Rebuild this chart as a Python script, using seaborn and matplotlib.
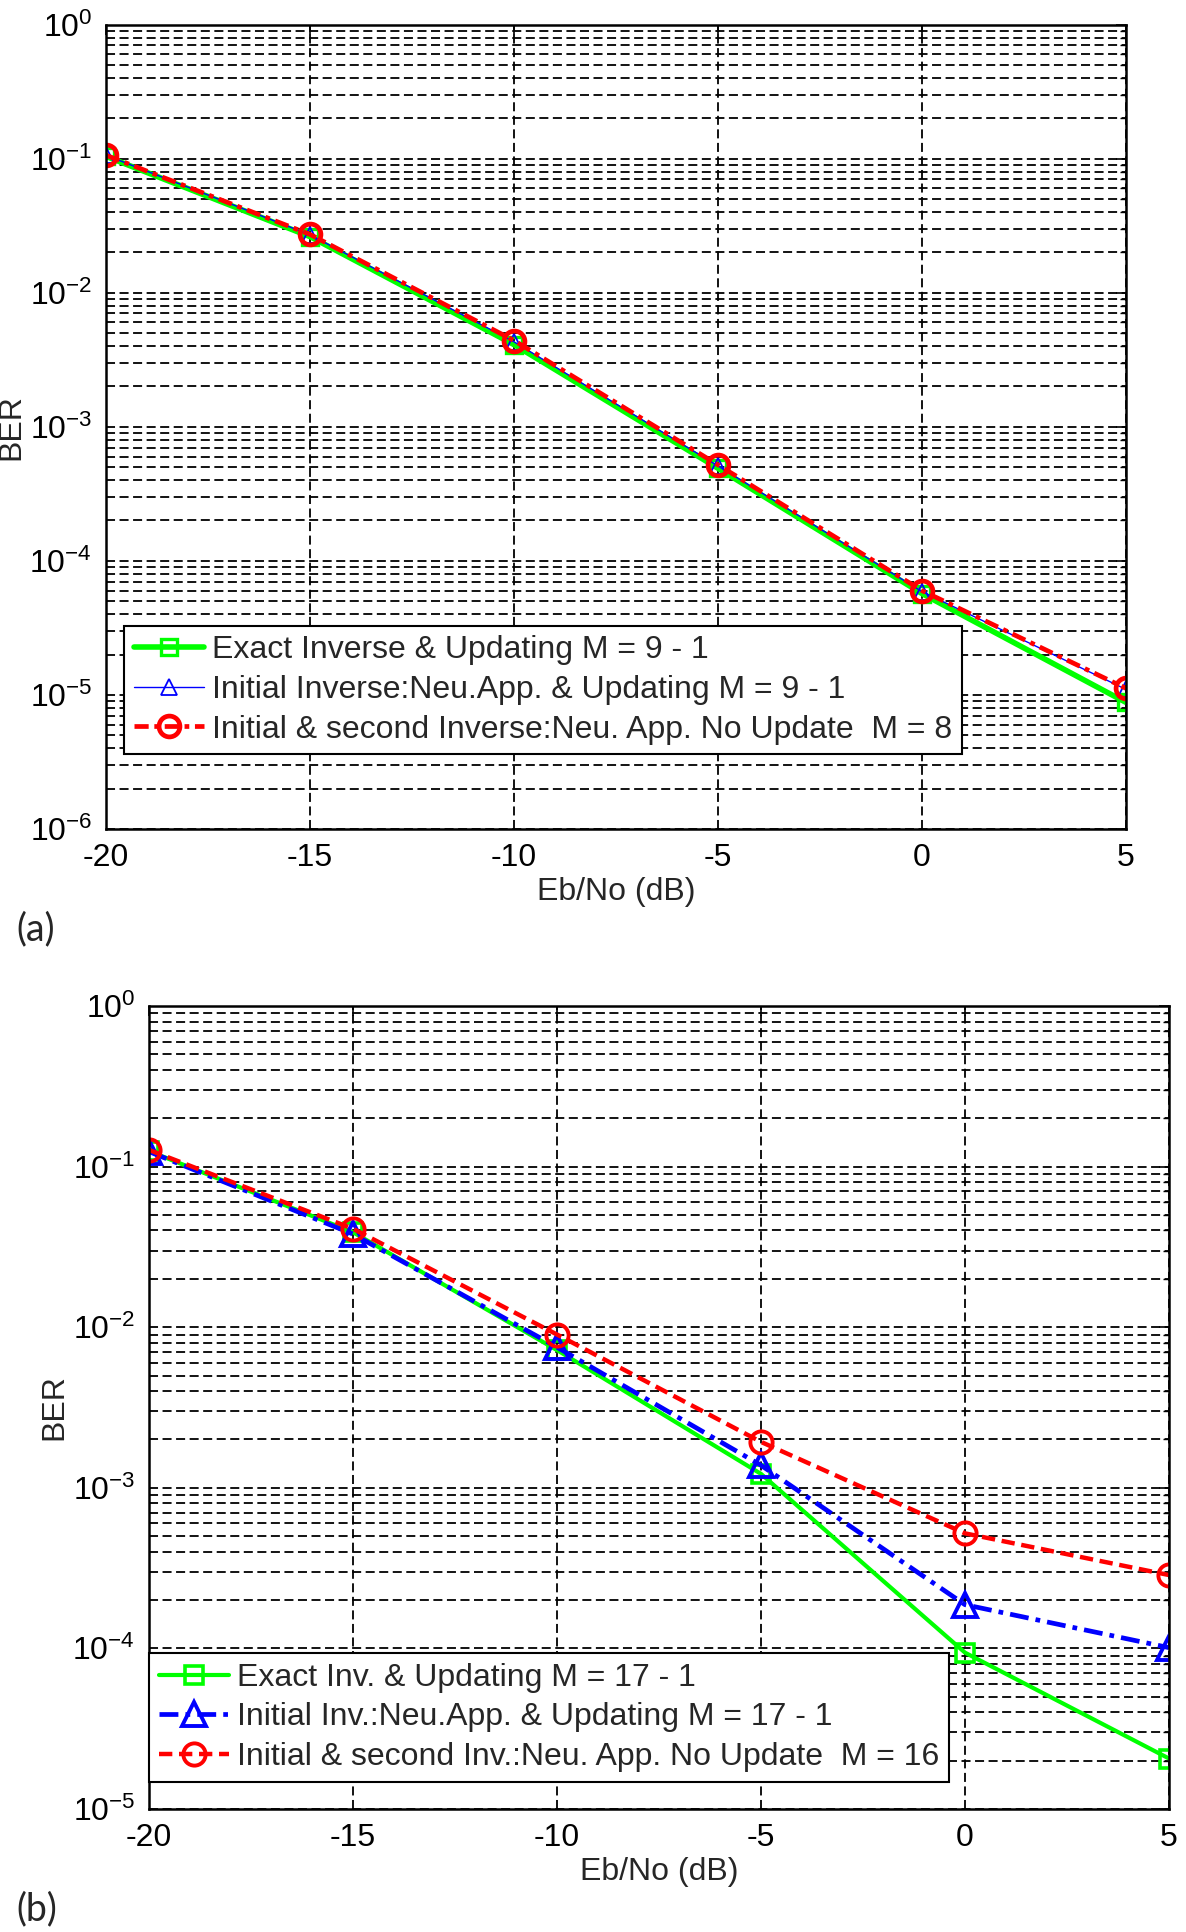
import numpy as np
import pandas as pd
import matplotlib
matplotlib.use("Agg")
import matplotlib.pyplot as plt
import seaborn as sns
from matplotlib.ticker import LogLocator, NullFormatter

# ==========================================
# DATA
# ==========================================
ebno = [-20, -15, -10, -5, 0, 5]

# panel (a), M = 9
ber_a_exact = [0.104, 0.0262, 0.0041, 4.9e-4, 5.7e-5, 8.8e-6]
ber_a_neu_upd = [0.106, 0.0270, 0.0043, 5.1e-4, 5.9e-5, 1.1e-5]
ber_a_neu_noupd = [0.106, 0.0272, 0.0044, 5.2e-4, 6.0e-5, 1.12e-5]
labels_a = ["Exact Inverse & Updating M = 9 - 1",
            "Initial Inverse:Neu.App. & Updating M = 9 - 1",
            "Initial & second Inverse:Neu. App. No Update  M = 8"]

# panel (b), M = 17
ber_b_exact = [0.125, 0.039, 0.0072, 1.22e-3, 9.4e-5, 2.06e-5]
ber_b_neu_upd = [0.124, 0.038, 0.0075, 1.38e-3, 1.87e-4, 1.01e-4]
ber_b_neu_noupd = [0.127, 0.041, 0.0090, 1.93e-3, 5.2e-4, 2.86e-4]
labels_b = ["Exact Inv. & Updating M = 17 - 1",
            "Initial Inv.:Neu.App. & Updating M = 17 - 1",
            "Initial & second Inv.:Neu. App. No Update  M = 16"]

# ==========================================
# STYLE
# ==========================================
sns.set_style("white")
plt.rcParams['font.family'] = ['Liberation Sans', 'DejaVu Sans']
plt.rcParams['mathtext.fontset'] = 'custom'
plt.rcParams['mathtext.rm'] = 'Liberation Sans'
plt.rcParams['mathtext.it'] = 'Liberation Sans'
FS = 23
plt.rcParams['font.size'] = FS

GREEN, BLUE, RED = (0, 1, 0), (0, 0, 1), (1, 0, 0)


def style_axes(ax, ymin):
    ax.set_yscale('log')
    ax.set_xlim(-20, 5)
    ax.set_ylim(ymin, 1)
    ax.set_xticks(ebno)
    ax.set_xticklabels([str(v) for v in ebno])
    ax.yaxis.set_major_locator(LogLocator(base=10, numticks=20))
    ax.yaxis.set_minor_locator(LogLocator(base=10, subs=np.arange(2, 10), numticks=20))
    ax.yaxis.set_minor_formatter(NullFormatter())
    ax.grid(axis='y', which='both', color='black', linestyle=(0, (5, 2.5)), linewidth=1.3)
    ax.grid(axis='x', which='major', color='black', linestyle=(0, (5, 2.5)), linewidth=1.3)
    ax.set_axisbelow(True)
    for s in ax.spines.values():
        s.set_linewidth(1.8)
        s.set_color('black')
    ax.tick_params(which='both', direction='in', top=True, right=True,
                   labelsize=FS, pad=10, colors='black')
    ax.tick_params(which='major', length=7, width=1.2)
    ax.tick_params(which='minor', length=4, width=1.0)
    ax.set_xlabel('Eb/No (dB)', fontsize=FS, labelpad=3)
    ax.set_ylabel('BER', fontsize=FS, labelpad=2)


def legend(ax, anchor):
    leg = ax.legend(loc='lower left', bbox_to_anchor=anchor, borderaxespad=0,
                    fontsize=FS, frameon=True, fancybox=False, framealpha=1,
                    edgecolor='black', handlelength=2.2, handletextpad=0.25,
                    labelspacing=0.3, borderpad=0.3)
    leg.get_frame().set_linewidth(1.5)


fig = plt.figure(figsize=(11.86, 19.32), dpi=100)
ax_a = fig.add_axes([0.0894, 0.5709, 0.8600, 0.4164])
ax_b = fig.add_axes([0.1256, 0.0637, 0.8601, 0.4156])

# ---- panel (a)
sns.lineplot(x=ebno, y=ber_a_exact, ax=ax_a, color=GREEN, linewidth=4.0,
             marker='s', markersize=12, markerfacecolor='none',
             markeredgecolor=GREEN, markeredgewidth=2.4, label=labels_a[0])
sns.lineplot(x=ebno, y=ber_a_neu_upd, ax=ax_a, color=BLUE, linewidth=1.0,
             marker='^', markersize=12, markerfacecolor='none',
             markeredgecolor=BLUE, markeredgewidth=1.3, label=labels_a[1])
sns.lineplot(x=ebno, y=ber_a_neu_noupd, ax=ax_a, color=RED, linewidth=3.4,
             linestyle=(0, (3, 1.2, 1, 1.2)), marker='o', markersize=15,
             markerfacecolor='none', markeredgecolor=RED, markeredgewidth=3.4,
             label=labels_a[2])
style_axes(ax_a, 1e-6)
legend(ax_a, (0.0176, 0.093))

# ---- panel (b)
sns.lineplot(x=ebno, y=ber_b_exact, ax=ax_b, color=GREEN, linewidth=3.0,
             marker='s', markersize=13, markerfacecolor='none',
             markeredgecolor=GREEN, markeredgewidth=2.6, label=labels_b[0])
sns.lineplot(x=ebno, y=ber_b_neu_upd, ax=ax_b, color=BLUE, linewidth=3.4,
             linestyle=(0, (4, 1.5, 1, 1.5)), marker='^', markersize=17,
             markerfacecolor='none', markeredgecolor=BLUE, markeredgewidth=2.8,
             label=labels_b[1])
sns.lineplot(x=ebno, y=ber_b_neu_noupd, ax=ax_b, color=RED, linewidth=3.2,
             linestyle=(0, (3, 1.5)), marker='o', markersize=16,
             markerfacecolor='none', markeredgecolor=RED, markeredgewidth=2.8,
             label=labels_b[2])
style_axes(ax_b, 1e-5)
legend(ax_b, (0.0, 0.034))

fig.text(0.014, 1 - 929 / 1932, '(a)', fontsize=27, family=['Lato', 'DejaVu Sans'],
         va='center', ha='left')
fig.text(0.014, 1 - 1909 / 1932, '(b)', fontsize=27, family=['Lato', 'DejaVu Sans'],
         va='center', ha='left')

fig.savefig('out.png', dpi=100)
